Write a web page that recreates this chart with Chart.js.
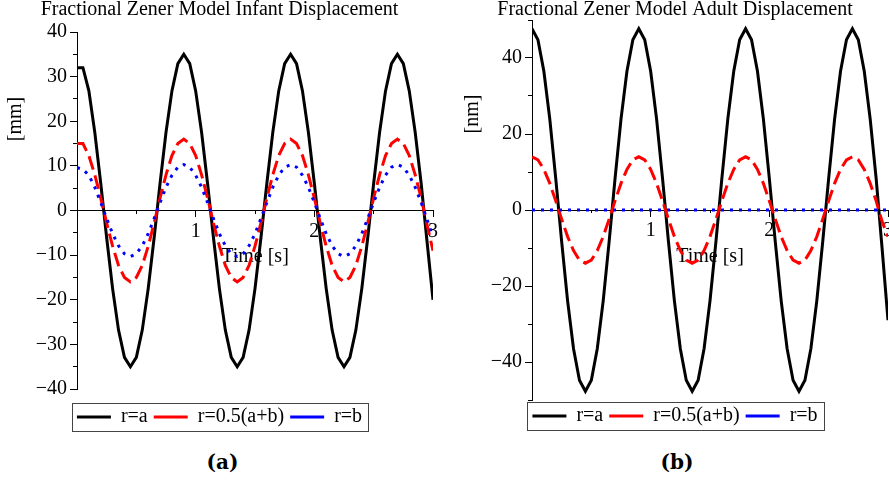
<!DOCTYPE html>
<html>
<head>
<meta charset="utf-8">
<script src="https://cdn.jsdelivr.net/npm/chart.js@4.4.0/dist/chart.umd.min.js"></script>
<style>
  html, body { margin: 0; padding: 0; background: #fff; }
  body { width: 889px; height: 480px; overflow: hidden; position: relative; }
  #wrapA { position: absolute; left: 0; top: 0; }
  #wrapB { position: absolute; left: 445px; top: 0; }
  .caption {
    position: absolute; top: 450px; height: 24px; line-height: 24px;
    text-align: center; font: bold 20px "DejaVu Serif", serif; color: #000;
  }
</style>
</head>
<body>
<div id="wrapA"><canvas id="chartA" width="445" height="440"></canvas></div>
<div id="wrapB"><canvas id="chartB" width="453" height="440"></canvas></div>
<div class="caption" style="left:0;width:445px;">(a)</div>
<div class="caption" style="left:445px;width:464px;">(b)</div>
<script>
// time samples [s]
const timeS = [0, 0.05, 0.1, 0.15, 0.2, 0.25, 0.3, 0.35, 0.4, 0.45, 0.5, 0.55, 0.6, 0.65, 0.7, 0.75, 0.8, 0.85,
  0.9, 0.95, 1, 1.05, 1.1, 1.15, 1.2, 1.25, 1.3, 1.35, 1.4, 1.45, 1.5, 1.55, 1.6, 1.65, 1.7, 1.75,
  1.8, 1.85, 1.9, 1.95, 2, 2.05, 2.1, 2.15, 2.2, 2.25, 2.3, 2.35, 2.4, 2.45, 2.5, 2.55, 2.6, 2.65,
  2.7, 2.75, 2.8, 2.85, 2.9, 2.95, 3];

// Infant displacement [mm]
const blackA = [32, 32, 26.8, 17.5, 6.1, -6.1, -17.5, -26.8, -32.9, -35, -32.9, -26.8, -17.5, -6.1, 6.1, 17.5, 26.8, 32.9,
  35, 32.9, 26.8, 17.5, 6.1, -6.1, -17.5, -26.8, -32.9, -35, -32.9, -26.8, -17.5, -6.1, 6.1, 17.5, 26.8, 32.9,
  35, 32.9, 26.8, 17.5, 6.1, -6.1, -17.5, -26.8, -32.9, -35, -32.9, -26.8, -17.5, -6.1, 6.1, 17.5, 26.8, 32.9,
  35, 32.9, 26.8, 17.5, 6.1, -7, -20];
const redA = [15, 15, 12.3, 8, 2.8, -2.8, -8, -12.3, -15, -16, -15, -12.3, -8, -2.8, 2.8, 8, 12.3, 15,
  16, 15, 12.3, 8, 2.8, -2.8, -8, -12.3, -15, -16, -15, -12.3, -8, -2.8, 2.8, 8, 12.3, 15,
  16, 15, 12.3, 8, 2.8, -2.8, -8, -12.3, -15, -16, -15, -12.3, -8, -2.8, 2.8, 8, 12.3, 15,
  16, 15, 12.3, 8, 2.8, -3.2, -9];
const blueA = [9.6, 9.2, 7.9, 5.2, 1.8, -1.8, -5.2, -7.9, -9.7, -10.3, -9.7, -7.9, -5.2, -1.8, 1.8, 5.2, 7.9, 9.7,
  10.3, 9.7, 7.9, 5.2, 1.8, -1.8, -5.2, -7.9, -9.7, -10.3, -9.7, -7.9, -5.2, -1.8, 1.8, 5.2, 7.9, 9.7,
  10.3, 9.7, 7.9, 5.2, 1.8, -1.8, -5.2, -7.9, -9.7, -10.3, -9.7, -7.9, -5.2, -1.8, 1.8, 5.2, 7.9, 9.7,
  10.3, 9.7, 7.9, 5.2, 1.8, -2, -6];

// Adult displacement [nm]
const blackB = [47.7, 44.8, 36.5, 23.9, 8.3, -8.3, -23.9, -36.5, -44.8, -47.7, -44.8, -36.5, -23.9, -8.3, 8.3, 23.9, 36.5, 44.8,
  47.7, 44.8, 36.5, 23.9, 8.3, -8.3, -23.9, -36.5, -44.8, -47.7, -44.8, -36.5, -23.9, -8.3, 8.3, 23.9, 36.5, 44.8,
  47.7, 44.8, 36.5, 23.9, 8.3, -8.3, -23.9, -36.5, -44.8, -47.7, -44.8, -36.5, -23.9, -8.3, 8.3, 23.9, 36.5, 44.8,
  47.7, 44.8, 36.5, 23.9, 8.3, -10, -29];
const redB = [14, 13.2, 10.7, 7, 2.4, -2.4, -7, -10.7, -13.2, -14, -13.2, -10.7, -7, -2.4, 2.4, 7, 10.7, 13.2,
  14, 13.2, 10.7, 7, 2.4, -2.4, -7, -10.7, -13.2, -14, -13.2, -10.7, -7, -2.4, 2.4, 7, 10.7, 13.2,
  14, 13.2, 10.7, 7, 2.4, -2.4, -7, -10.7, -13.2, -14, -13.2, -10.7, -7, -2.4, 2.4, 7, 10.7, 13.2,
  14, 13.2, 10.7, 7, 2.4, -3, -7];
const blueB = [0, 0, 0, 0, 0, 0, 0, 0, 0, 0, 0, 0, 0, 0, 0, 0, 0, 0,
  0, 0, 0, 0, 0, 0, 0, 0, 0, 0, 0, 0, 0, 0, 0, 0, 0, 0,
  0, 0, 0, 0, 0, 0, 0, 0, 0, 0, 0, 0, 0, 0, 0, 0, 0, 0,
  0, 0, 0, 0, 0, 0, 0];

const seriesLabels = ['r=a', 'r=0.5(a+b)', 'r=b'];

// axis ticks
const xTicks = [0, 1, 2, 3];
const xMinor = [0.5, 1.5, 2.5];
const yTicksA = [-40, -30, -20, -10, 0, 10, 20, 30, 40];
const yMinorA = [-35, -25, -15, -5, 5, 15, 25, 35];
const yTicksB = [-40, -20, 0, 20, 40];
const yMinorB = [-50, -30, -10, 10, 30, 50];

const SERIF = '"Liberation Serif", "Times New Roman", serif';
Chart.defaults.font.family = SERIF;
Chart.defaults.font.size = 20;
Chart.defaults.color = '#000';

const tickFont = { family: SERIF, size: 20 };
const fmtTick = v => v < 0 ? '\u2212' + Math.abs(v) : String(v);
const pts = (xs, ys) => xs.map((x, i) => ({ x: x, y: ys[i] }));

// rotated y-axis label, placed off-centre like the original
const sideLabel = {
  id: 'sideLabel',
  afterDraw(chart, args, opts) {
    const ctx = chart.ctx;
    ctx.save();
    ctx.translate(opts.x, opts.y);
    ctx.rotate(-Math.PI / 2);
    ctx.font = '20px ' + SERIF;
    ctx.fillStyle = '#000';
    ctx.textAlign = 'center';
    ctx.textBaseline = 'middle';
    ctx.fillText(opts.text, 0, 0);
    ctx.restore();
  }
};

// frame around the legend items
const legendFrame = {
  id: 'legendFrame',
  afterDraw(chart) {
    const boxes = chart.legend && chart.legend.legendHitBoxes;
    if (!boxes || !boxes.length) return;
    const first = boxes[0];
    const last = boxes[boxes.length - 1];
    const ctx = chart.ctx;
    const x0 = Math.round(first.left - 5) + 0.5;
    const x1 = Math.round(last.left + last.width + 6) + 0.5;
    const y0 = Math.round(first.top - 4) + 0.5;
    const y1 = Math.round(first.top + first.height + 4) + 0.5;
    ctx.save();
    ctx.strokeStyle = '#444';
    ctx.lineWidth = 1;
    ctx.strokeRect(x0, y0, x1 - x0, y1 - y0);
    ctx.restore();
  }
};

function makeDatasets(black, red, blue) {
  const base = { pointRadius: 0, borderWidth: 3, tension: 0, fill: false, xAxisID: 'x', yAxisID: 'y', borderCapStyle: 'butt' };
  return [
    Object.assign({}, base, { label: seriesLabels[0], data: pts(timeS, black), borderColor: '#000000', order: 3 }),
    Object.assign({}, base, { label: seriesLabels[1], data: pts(timeS, red), borderColor: '#ff0000', borderDash: [14, 6], order: 2 }),
    Object.assign({}, base, { label: seriesLabels[2], data: pts(timeS, blue), borderColor: '#0000ff', borderDash: [3, 6], order: 1 })
  ];
}

function makeScales(cfg) {
  return {
    x: {
      type: 'linear', min: 0, max: 3,
      position: { y: 0 },
      afterBuildTicks: s => { s.ticks = xTicks.map(v => ({ value: v })); },
      afterFit: s => { s.height = 0; },
      border: { display: true, color: '#000', width: 1 },
      grid: { drawOnChartArea: false, drawTicks: true, tickLength: 6, tickColor: '#000', tickWidth: 1 },
      ticks: { padding: 3, color: '#000', font: tickFont, maxRotation: 0, autoSkip: false, callback: v => v === 0 ? '' : String(v) },
      title: { display: true, text: 'Time [s]', color: '#000', font: { family: SERIF, size: 20 }, padding: { top: 0, bottom: cfg.xTitlePad } }
    },
    x2: {
      type: 'linear', min: 0, max: 3,
      position: { y: 0 },
      afterBuildTicks: s => { s.ticks = xMinor.map(v => ({ value: v })); },
      afterFit: s => { s.height = 0; },
      border: { display: false },
      grid: { drawOnChartArea: false, drawTicks: true, tickLength: 3, tickColor: '#000', tickWidth: 1 },
      ticks: { autoSkip: false, callback: () => '' }
    },
    y: {
      type: 'linear', min: cfg.yMin, max: cfg.yMax,
      position: 'left', weight: 1,
      afterBuildTicks: s => { s.ticks = cfg.yTicks.map(v => ({ value: v })); },
      afterFit: s => { s.width = cfg.yWidth; },
      border: { display: true, color: '#000', width: 1 },
      grid: { drawOnChartArea: false, drawTicks: true, tickLength: 7, tickColor: '#000', tickWidth: 1 },
      ticks: { padding: 3, color: '#000', font: tickFont, autoSkip: false, callback: fmtTick }
    },
    y2: {
      type: 'linear', min: cfg.yMin, max: cfg.yMax,
      position: 'left', weight: 0,
      afterBuildTicks: s => { s.ticks = cfg.yMinor.map(v => ({ value: v })); },
      afterFit: s => { s.width = 0; },
      border: { display: false },
      grid: { drawOnChartArea: false, drawTicks: true, tickLength: 4, tickColor: '#000', tickWidth: 1 },
      ticks: { autoSkip: false, callback: () => '' }
    }
  };
}

function makeChart(id, cfg) {
  return new Chart(document.getElementById(id), {
    type: 'line',
    data: { datasets: makeDatasets(cfg.black, cfg.red, cfg.blue) },
    options: {
      responsive: false,
      animation: false,
      devicePixelRatio: 1,
      layout: { padding: cfg.padding },
      scales: makeScales(cfg),
      plugins: {
        title: {
          display: true, text: cfg.title, color: '#000',
          font: { family: SERIF, size: 20, weight: 'normal', lineHeight: 1 },
          padding: { top: 0, bottom: cfg.titleGap }
        },
        legend: {
          position: 'bottom',
          title: { display: cfg.legendSpacer > 0, text: '', font: { size: 10, lineHeight: cfg.legendSpacer / 10 }, padding: 0 },
          labels: {
            usePointStyle: true, pointStyle: 'line', pointStyleWidth: 34,
            padding: 6, color: '#000', font: { family: SERIF, size: 20 },
            sort: (a, b) => a.datasetIndex - b.datasetIndex
          }
        },
        tooltip: { enabled: false },
        sideLabel: { text: cfg.yLabel, x: cfg.yLabelX, y: cfg.yLabelY }
      }
    },
    plugins: [sideLabel, legendFrame]
  });
}

makeChart('chartA', {
  title: 'Fractional Zener Model Infant Displacement',
  black: blackA, red: redA, blue: blueA,
  yMin: -40, yMax: 40, yTicks: yTicksA, yMinor: yMinorA,
  yWidth: 71, padding: { left: 6, right: 12, top: 0, bottom: 3 },
  titleGap: 12, legendSpacer: 12, xTitlePad: -58.5,
  yLabel: '[mm]', yLabelX: 15.5, yLabelY: 119
});

makeChart('chartB', {
  title: 'Fractional Zener Model Adult Displacement',
  black: blackB, red: redB, blue: blueB,
  yMin: -50, yMax: 50, yTicks: yTicksB, yMinor: yMinorB,
  yWidth: 70, padding: { left: 17, right: 10, top: 0, bottom: 4 },
  titleGap: 0, legendSpacer: 0, xTitlePad: -59,
  yLabel: '[nm]', yLabelX: 28, yLabelY: 114
});
</script>
</body>
</html>
